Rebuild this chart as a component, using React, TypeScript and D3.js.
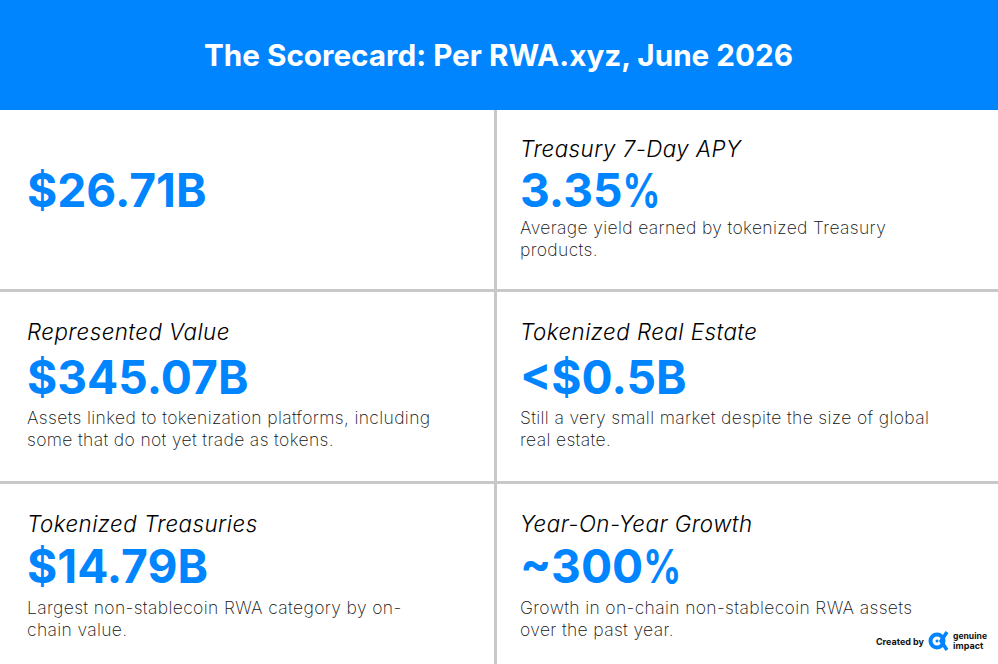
import * as d3 from "d3";

const title = "The Scorecard: Per RWA.xyz, June 2026";

const labels = [
  "",
  "Treasury 7-Day APY",
  "Represented Value",
  "Tokenized Real Estate",
  "Tokenized Treasuries",
  "Year-On-Year Growth",
];
const values = ["$26.71B", "3.35%", "$345.07B", "<$0.5B", "$14.79B", "~300%"];
const notes = [
  [],
  ["Average yield earned by tokenized Treasury", "products."],
  ["Assets linked to tokenization platforms, including", "some that do not yet trade as tokens."],
  ["Still a very small market despite the size of global", "real estate."],
  ["Largest non-stablecoin RWA category by on-", "chain value."],
  ["Growth in on-chain non-stablecoin RWA assets", "over the past year."],
];

const width = 998;
const height = 664;
const blue = "#0085ff";
const grey = "#c8c8c8";
const font = "Inter, sans-serif";

// left edge of the text in each column
const x = d3.scaleOrdinal<number, number>().domain([0, 1]).range([27, 520]);
// baselines of the label, value and first note line per row
const labelY = d3.scaleOrdinal<number, number>().domain([0, 1, 2]).range([157, 340, 532]);
const valueY = d3.scaleOrdinal<number, number>().domain([0, 1, 2]).range([207, 394, 583]);
const noteY = d3.scaleOrdinal<number, number>().domain([0, 1, 2]).range([234, 424, 614]);

// the reference's percent sign is narrower than the installed Inter's
function Value({ text }: { text: string }) {
  if (!text.endsWith("%")) return <>{text}</>;
  return (
    <>
      {text.slice(0, -1)}
      <tspan textLength={38} lengthAdjust="spacingAndGlyphs">%</tspan>
    </>
  );
}

export default function App() {
  return (
    <svg
      width={width}
      height={height}
      viewBox={`0 0 ${width} ${height}`}
      style={{ position: "absolute", left: 0, top: 0, background: "white", fontFamily: font }}
    >
      <style>{`html,body{margin:0;background:white}`}</style>
      <rect width={width} height={110} fill={blue} />
      <text x={498.5} y={66} textAnchor="middle" fill="white" fontSize={29.7} fontWeight={700}>
        {title}
      </text>

      {/* Grid */}
      <line x1={495.5} x2={495.5} y1={110} y2={height} stroke={grey} strokeWidth={3} />
      {[290.5, 482.5].map((g) => (
        <line key={g} x1={0} x2={width} y1={g} y2={g} stroke={grey} strokeWidth={3} />
      ))}

      {/* Cards */}
      {values.map((value, i) => {
        const col = i % 2;
        const row = Math.floor(i / 2);
        return (
          <g key={value} transform={`translate(${x(col)},0)`}>
            {labels[i] && (
              <text y={labelY(row)} fontSize={22.3} fontStyle="italic" fontWeight={300} fill="#000" letterSpacing={0.48}>
                {labels[i]}
              </text>
            )}
            <text y={valueY(row)} fontSize={46.2} fontWeight={700} fill={blue}>
              <Value text={value} />
            </text>
            {notes[i].map((line, k) => (
              <text key={line} y={noteY(row) + k * 21.5} fontSize={17.5} fontWeight={200} fill="#111" letterSpacing={0.35}>
                {line}
              </text>
            ))}
          </g>
        );
      })}

      {/* Credit */}
      <text x={924} y={645} textAnchor="end" fontSize={9} fontWeight={700} fill="#111">
        Created by
      </text>
      <g fill="none" stroke={blue}>
        <circle cx={937} cy={641} r={6.5} strokeWidth={4} />
        <path d="M 947 632 L 941 641 L 947 650" strokeWidth={3.5} />
      </g>
      <circle cx={937} cy={641} r={1.5} fill={blue} />
      <text x={953} y={638.5} fontSize={9} fontWeight={700} fill="#111" textLength={34} lengthAdjust="spacingAndGlyphs">
        genuine
      </text>
      <text x={953} y={648.5} fontSize={9} fontWeight={700} fill="#111">
        impact
      </text>
    </svg>
  );
}
